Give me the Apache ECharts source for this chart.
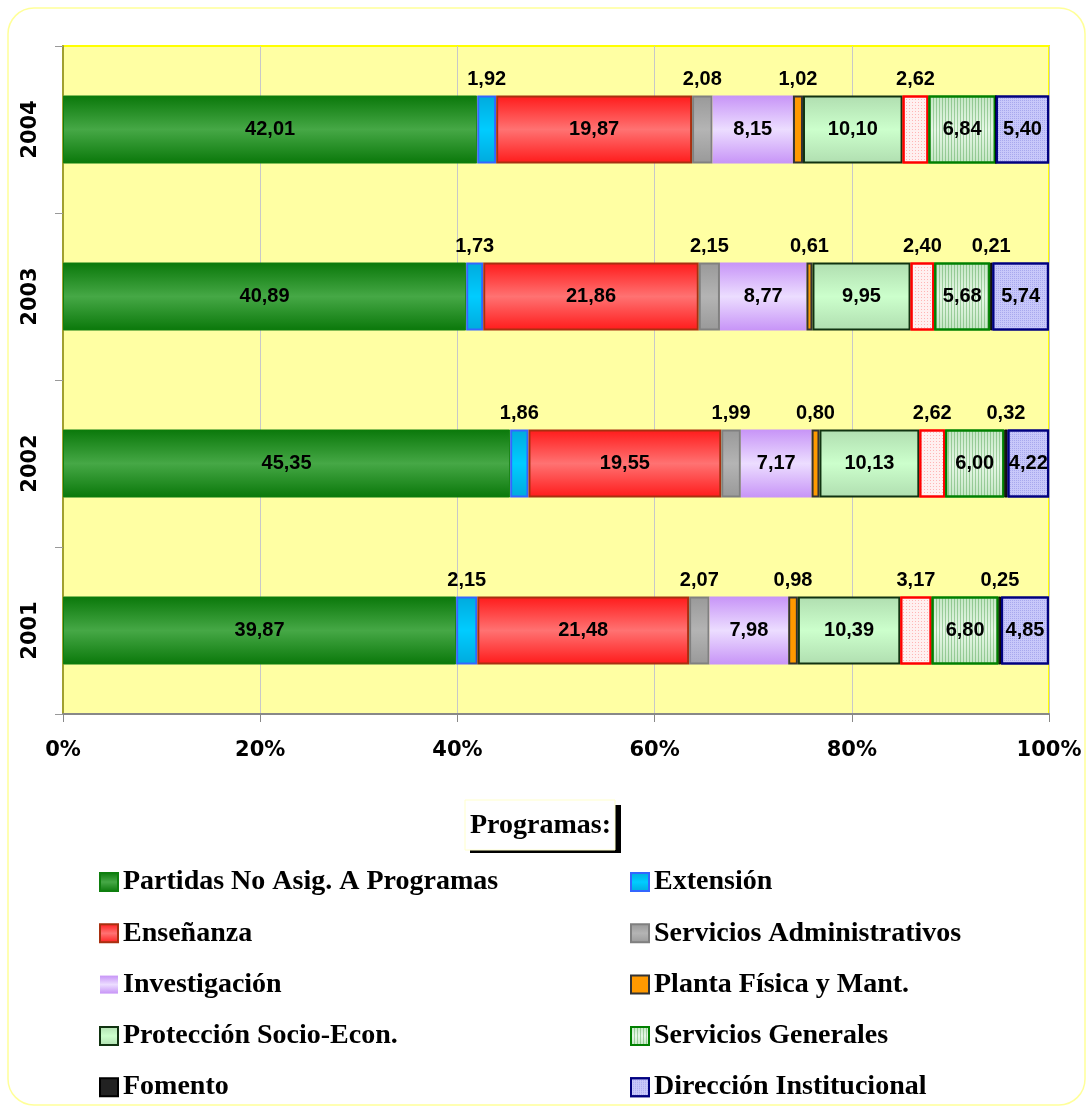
<!DOCTYPE html>
<html>
<head>
<meta charset="utf-8">
<script src="https://cdn.jsdelivr.net/npm/echarts@6/dist/echarts.min.js"></script>
<style>
  html, body { margin: 0; padding: 0; background: #fff; }
  #chart { width: 1091px; height: 1109px; }
</style>
</head>
<body>
<div id="chart"></div>
<script>
// años (de abajo hacia arriba)
const years = ['2001', '2002', '2003', '2004'];

// % por programa, orden de años como arriba
const partidas     = [39.87, 45.35, 40.89, 42.01];
const extension    = [2.15, 1.86, 1.73, 1.92];
const ensenanza    = [21.48, 19.55, 21.86, 19.87];
const servAdmin    = [2.07, 1.99, 2.15, 2.08];
const investigacion= [7.98, 7.17, 8.77, 8.15];
const plantaFisica = [0.98, 0.80, 0.61, 1.02];
const proteccion   = [10.39, 10.13, 9.95, 10.10];
const otros        = [3.17, 2.62, 2.40, 2.62];
const servGenerales= [6.80, 6.00, 5.68, 6.84];
const fomento      = [0.25, 0.32, 0.21, 0];
const direccion    = [4.85, 4.22, 5.74, 5.40];

const xTicks = [0, 20, 40, 60, 80, 100];

window.addEventListener('load', function () {
    let chart = echarts.init(document.getElementById('chart'));

    function grad(edge, mid) {
        return new echarts.graphic.LinearGradient(0, 0, 0, 1, [
            {offset: 0, color: edge},
            {offset: 0.5, color: mid},
            {offset: 1, color: edge}
        ]);
    }
    function fmt(p) {
        return p.value ? p.value.toFixed(2).replace('.', ',') : '';
    }
    const inside = {show: true, position: 'inside', formatter: fmt, color: '#000',
        fontFamily: 'Arial, "Liberation Sans"', fontWeight: 'bold', fontSize: 20};
    const above = {show: true, position: 'top', distance: 6, formatter: fmt, color: '#000',
        fontFamily: 'Arial, "Liberation Sans"', fontWeight: 'bold', fontSize: 20};

    function serie(name, data, itemStyle, label) {
        return {
            name: name, type: 'bar', stack: 'total', data: data,
            barWidth: 68, itemStyle: itemStyle, label: label,
            emphasis: {disabled: true}
        };
    }

    let series = [
        serie('Partidas No Asig. A Programas', partidas,
            {color: grad('#0A780A', '#46A846'), borderColor: '#0F7F0F', borderWidth: 1}, inside),
        serie('Extensión', extension,
            {color: grad('#00AADD', '#00CCFF'), borderColor: '#3366FF', borderWidth: 2}, above),
        serie('Enseñanza', ensenanza,
            {color: grad('#FF1A1A', '#FF7272'), borderColor: '#A83010', borderWidth: 2}, inside),
        serie('Servicios Administrativos', servAdmin,
            {color: grad('#999999', '#B4B4B4'), borderColor: '#808080', borderWidth: 2}, above),
        serie('Investigación', investigacion,
            {color: grad('#C794F7', '#ECDDFF'), borderWidth: 0}, inside),
        serie('Planta Física y Mant.', plantaFisica,
            {color: '#FF9900', borderColor: '#333333', borderWidth: 2}, above),
        serie('Protección Socio-Econ.', proteccion,
            {color: grad('#B0DEB0', '#CCFFCC'), borderColor: '#113311', borderWidth: 2}, inside),
        serie('Otros', otros,
            {color: '#FFF0F0', borderColor: '#FF0000', borderWidth: 2,
             decal: {symbol: 'rect', color: 'rgba(255,110,110,0.45)', dashArrayX: [1, 2], dashArrayY: [1, 2], symbolSize: 1}}, above),
        serie('Servicios Generales', servGenerales,
            {color: grad('#C4E6C4', '#E6F7E6'), borderColor: '#008000', borderWidth: 2,
             decal: {symbol: 'rect', color: 'rgba(40,140,40,0.35)', dashArrayX: [1, 2], dashArrayY: [4, 0], symbolSize: 1}}, inside),
        serie('Fomento', fomento,
            {color: '#222222', borderColor: '#000000', borderWidth: 1}, above),
        serie('Dirección Institucional', direccion,
            {color: '#C8C8FA', borderColor: '#000080', borderWidth: 2,
             decal: {symbol: 'rect', color: 'rgba(120,120,220,0.4)', dashArrayX: [1, 1], dashArrayY: [1, 1], symbolSize: 1}}, inside)
    ];

    const legendText = {fontFamily: '"Times New Roman", "Liberation Serif", serif', fontWeight: 'bold',
        fontSize: 28, color: '#000'};

    let option = {
        backgroundColor: '#ffffff',
        animation: false,
        grid: {
            left: 63, right: 42, top: 46, bottom: 395,
            show: true, backgroundColor: '#FFFFA3', borderColor: '#FFFF00', borderWidth: 2
        },
        legend: [
            {
                data: ['Partidas No Asig. A Programas', 'Enseñanza', 'Investigación', 'Protección Socio-Econ.', 'Fomento'],
                orient: 'vertical', left: 94, top: 863, height: 242, itemGap: 23.3,
                itemWidth: 18, itemHeight: 18, icon: 'rect', textStyle: legendText
            },
            {
                data: ['Extensión', 'Servicios Administrativos', 'Planta Física y Mant.', 'Servicios Generales', 'Dirección Institucional'],
                orient: 'vertical', left: 625, top: 863, height: 242, itemGap: 23.3,
                itemWidth: 18, itemHeight: 18, icon: 'rect', textStyle: legendText
            }
        ],
        xAxis: {
            type: 'value', min: 0, max: 100, interval: 20,
            axisLine: {show: true, lineStyle: {color: '#888', width: 2}},
            axisTick: {show: true, length: 8, lineStyle: {color: '#888'}},
            splitLine: {show: true, lineStyle: {color: '#C8C8C8', width: 1}},
            axisLabel: {
                formatter: function (v) { return xTicks.indexOf(v) >= 0 ? v + '%' : ''; },
                margin: 26, color: '#000', fontFamily: '"DejaVu Sans"', fontWeight: 'bold', fontSize: 21
            }
        },
        yAxis: {
            type: 'category', data: years,
            axisLine: {show: true, lineStyle: {color: '#A0A030', width: 2}},
            axisTick: {show: true, length: 8, lineStyle: {color: '#999'}},
            axisLabel: {
                rotate: 90, margin: 22, color: '#000',
                fontFamily: '"DejaVu Sans"', fontWeight: 'bold', fontSize: 21
            }
        },
        graphic: [
            {
                type: 'rect', silent: true, z: -10,
                shape: {x: 8, y: 8, width: 1077, height: 1097, r: 26},
                style: {fill: 'none', stroke: '#FFFF99', lineWidth: 1.5}
            },
            {
                type: 'rect', silent: true,
                shape: {x: 470, y: 805, width: 151, height: 48},
                style: {fill: '#000'}
            },
            {
                type: 'rect', silent: true,
                shape: {x: 465, y: 800, width: 150, height: 50},
                style: {fill: '#fff', stroke: '#FFFFCC', lineWidth: 1}
            },
            {
                type: 'text', silent: true, x: 470, y: 826,
                style: {text: 'Programas:', fill: '#000', verticalAlign: 'middle',
                    font: 'bold 28px "Times New Roman", "Liberation Serif", serif'}
            }
        ],
        series: series
    };

    chart.setOption(option);
}, false);
</script>
</body>
</html>
